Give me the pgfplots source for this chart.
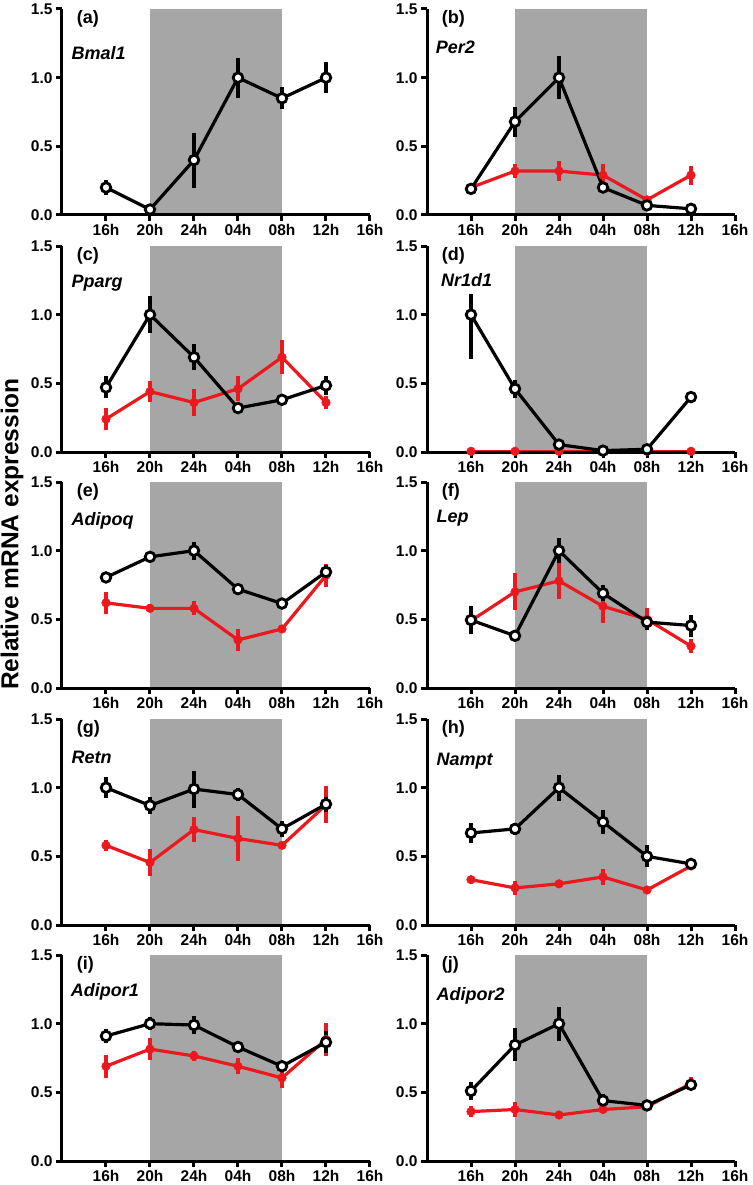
\documentclass[border=0pt]{standalone}
\usepackage{pgfplots}
\pgfplotsset{compat=1.18}
\usepackage{fontspec}
\setmainfont{Liberation Sans}
\definecolor{bggray}{RGB}{166,166,166}
\definecolor{myred}{RGB}{235,25,30}
\pgfplotsset{
  panel/.style={
    width=308pt, height=206pt, scale only axis,
    xmin=-1, xmax=6, ymin=0, ymax=1.5,
    axis lines=left,
    axis line style={line width=3pt, -},
    tick style={line width=3pt, black},
    tick align=outside, major tick length=6pt,
    xtick={0,1,2,3,4,5,6},
    xticklabels={16h,20h,24h,04h,08h,12h,16h},
    ytick={0,0.5,1,1.5},
    /pgf/number format/assume math mode=true,
    yticklabel style={/pgf/number format/fixed, /pgf/number format/fixed zerofill, /pgf/number format/precision=1},
    tick label style={font=\fontsize{15.5}{17}\selectfont\bfseries},
    clip=false, axis on top,
    anchor=north west,
  },
  blk/.style={black, line width=3.2pt, mark=*, mark size=4.8pt,
    mark options={fill=white, draw=black, line width=2.8pt, solid},
    error bars/.cd, y dir=both, y explicit, error bar style={line width=3.4pt, black}, error mark=none},
  rd/.style={myred, line width=3.2pt, mark=*, mark size=4.3pt,
    mark options={fill=myred, draw=myred, line width=0.5pt, solid},
    error bars/.cd, y dir=both, y explicit, error bar style={line width=3.4pt, myred}, error mark=none},
}
\newcommand{\nightbox}{\fill[bggray] (axis cs:1,0) rectangle (axis cs:4,1.5);}
\newcommand{\plab}[1]{\node[anchor=west, font=\fontsize{18}{20}\selectfont\bfseries] at (axis cs:-0.74,1.43) {#1};}
\newcommand{\glab}[3]{\node[anchor=west, font=\fontsize{18}{20}\selectfont\bfseries\itshape] at (axis cs:#1,#2) {#3};}
\begin{document}
\begin{tikzpicture}
\path[use as bounding box] (0pt,0pt) rectangle (752pt,-1185pt);
\node[rotate=90, font=\fontsize{24.5}{28}\selectfont\bfseries] at (12pt,-534pt) {Relative mRNA expression};

% (a)
\begin{axis}[panel, at={(62pt,-9pt)}]
\nightbox
\addplot[blk] coordinates {(0,0.20)+-(0,0.055) (1,0.04)+-(0,0.02) (2,0.40)+-(0,0.2) (3,1.0)+-(0,0.145) (4,0.85)+-(0,0.08) (5,1.0)+-(0,0.115)};
\plab{(a)}
\glab{-0.86}{1.18}{Bmal1}
\end{axis}

% (b)
\begin{axis}[panel, at={(427pt,-9pt)}]
\nightbox
\addplot[rd] coordinates {(0,0.20)+-(0,0.01) (1,0.32)+-(0,0.05) (2,0.32)+-(0,0.075) (3,0.29)+-(0,0.08) (4,0.11)+-(0,0.02) (5,0.29)+-(0,0.07)};
\addplot[blk] coordinates {(0,0.19)+-(0,0.02) (1,0.68)+-(0,0.11) (2,1.0)+-(0,0.155) (3,0.20)+-(0,0.02) (4,0.07)+-(0,0.01) (5,0.045)+-(0,0.01)};
\plab{(b)}
\glab{-0.88}{1.22}{Per2}
\end{axis}

% (c)
\begin{axis}[panel, at={(62pt,-246pt)}]
\nightbox
\addplot[rd] coordinates {(0,0.24)+-(0,0.08) (1,0.44)+-(0,0.075) (2,0.36)+-(0,0.1) (3,0.46)+-(0,0.09) (4,0.69)+-(0,0.125) (5,0.36)+-(0,0.05)};
\addplot[blk] coordinates {(0,0.47)+-(0,0.08) (1,1.0)+-(0,0.135) (2,0.69)+-(0,0.095) (3,0.32)+-(0,0.02) (4,0.38)+-(0,0.02) (5,0.485)+-(0,0.07)};
\plab{(c)}
\glab{-0.86}{1.23}{Pparg}
\end{axis}

% (d)
\begin{axis}[panel, at={(427pt,-246pt)}]
\nightbox
\addplot[rd] coordinates {(0,0.005)+-(0,0) (1,0.005)+-(0,0) (2,0.005)+-(0,0) (3,0.005)+-(0,0) (4,0.005)+-(0,0) (5,0.005)+-(0,0)};
\addplot[blk] coordinates {(0,1.0)+=(0,0.15)-=(0,0.32) (1,0.46)+=(0,0.065)-=(0,0.065) (2,0.054)+=(0,0.01)-=(0,0.01) (3,0.01)+=(0,0.01)-=(0,0.01) (4,0.02)+=(0,0.01)-=(0,0.01) (5,0.40)+=(0,0.02)-=(0,0.02)};
\plab{(d)}
\glab{-0.76}{1.25}{Nr1d1}
\end{axis}

% (e)
\begin{axis}[panel, at={(62pt,-482pt)}]
\nightbox
\addplot[rd] coordinates {(0,0.62)+-(0,0.08) (1,0.58)+-(0,0.03) (2,0.58)+-(0,0.05) (3,0.35)+-(0,0.08) (4,0.43)+-(0,0.02) (5,0.82)+-(0,0.085)};
\addplot[blk] coordinates {(0,0.805)+-(0,0.02) (1,0.955)+-(0,0.02) (2,1.0)+-(0,0.065) (3,0.72)+-(0,0.02) (4,0.615)+-(0,0.02) (5,0.845)+-(0,0.05)};
\plab{(e)}
\glab{-0.86}{1.22}{Adipoq}
\end{axis}

% (f)
\begin{axis}[panel, at={(427pt,-482pt)}]
\nightbox
\addplot[rd] coordinates {(0,0.49)+-(0,0.01) (1,0.70)+-(0,0.135) (2,0.78)+-(0,0.135) (3,0.595)+-(0,0.12) (4,0.50)+-(0,0.08) (5,0.305)+-(0,0.05)};
\addplot[blk] coordinates {(0,0.495)+-(0,0.1) (1,0.38)+-(0,0.02) (2,1.0)+-(0,0.09) (3,0.69)+-(0,0.06) (4,0.48)+-(0,0.055) (5,0.455)+-(0,0.08)};
\plab{(f)}
\glab{-0.86}{1.24}{Lep}
\end{axis}

% (g)
\begin{axis}[panel, at={(62pt,-719pt)}]
\nightbox
\addplot[rd] coordinates {(0,0.58)+-(0,0.04) (1,0.455)+-(0,0.095) (2,0.695)+-(0,0.09) (3,0.63)+-(0,0.165) (4,0.58)+-(0,0.02) (5,0.875)+-(0,0.135)};
\addplot[blk] coordinates {(0,1.0)+-(0,0.075) (1,0.87)+-(0,0.065) (2,0.99)+-(0,0.135) (3,0.95)+-(0,0.045) (4,0.70)+-(0,0.06) (5,0.88)+-(0,0.055)};
\plab{(g)}
\glab{-0.86}{1.22}{Retn}
\end{axis}

% (h)
\begin{axis}[panel, at={(427pt,-719pt)}]
\nightbox
\addplot[rd] coordinates {(0,0.33)+-(0,0.02) (1,0.27)+-(0,0.05) (2,0.30)+-(0,0.02) (3,0.35)+-(0,0.06) (4,0.255)+-(0,0.02) (5,0.43)+-(0,0.02)};
\addplot[blk] coordinates {(0,0.67)+-(0,0.075) (1,0.70)+-(0,0.045) (2,1.0)+-(0,0.095) (3,0.75)+-(0,0.085) (4,0.50)+-(0,0.08) (5,0.445)+-(0,0.02)};
\plab{(h)}
\glab{-0.86}{1.19}{Nampt}
\end{axis}

% (i)
\begin{axis}[panel, at={(62pt,-955pt)}]
\nightbox
\addplot[rd] coordinates {(0,0.69)+-(0,0.085) (1,0.815)+-(0,0.08) (2,0.765)+-(0,0.035) (3,0.69)+-(0,0.06) (4,0.605)+-(0,0.07) (5,0.885)+-(0,0.12)};
\addplot[blk] coordinates {(0,0.91)+-(0,0.05) (1,1.0)+-(0,0.045) (2,0.99)+-(0,0.065) (3,0.83)+-(0,0.02) (4,0.69)+-(0,0.02) (5,0.865)+-(0,0.08)};
\plab{(i)}
\glab{-0.88}{1.23}{Adipor1}
\end{axis}

% (j)
\begin{axis}[panel, at={(427pt,-955pt)}]
\nightbox
\addplot[rd] coordinates {(0,0.36)+-(0,0.04) (1,0.375)+-(0,0.055) (2,0.335)+-(0,0.02) (3,0.375)+-(0,0.02) (4,0.395)+-(0,0.02) (5,0.565)+-(0,0.05)};
\addplot[blk] coordinates {(0,0.51)+-(0,0.065) (1,0.845)+-(0,0.12) (2,1.0)+-(0,0.125) (3,0.44)+-(0,0.05) (4,0.405)+-(0,0.02) (5,0.555)+-(0,0.02)};
\plab{(j)}
\glab{-0.86}{1.20}{Adipor2}
\end{axis}
\end{tikzpicture}
\end{document}
